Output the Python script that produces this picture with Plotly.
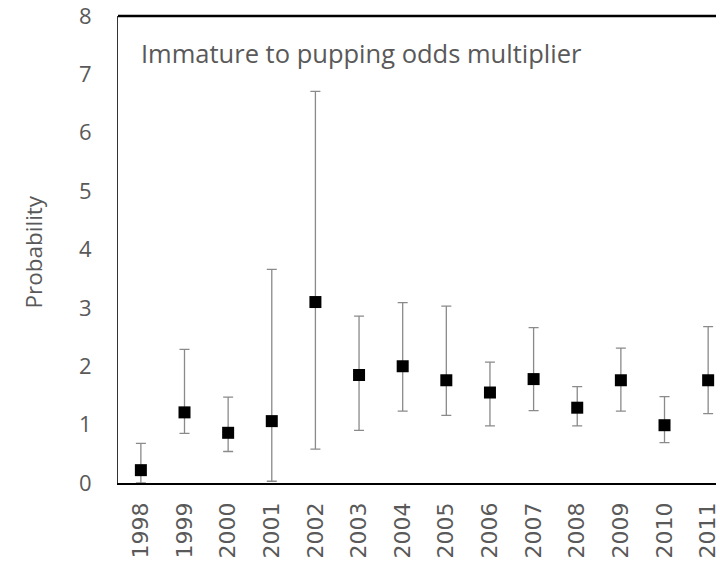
import plotly.graph_objects as go

years = ["1998", "1999", "2000", "2001", "2002", "2003", "2004",
         "2005", "2006", "2007", "2008", "2009", "2010", "2011"]
estimate = [0.22, 1.21, 0.86, 1.06, 3.10, 1.85, 2.00,
            1.76, 1.55, 1.78, 1.29, 1.76, 0.99, 1.76]
upper = [0.68, 2.29, 1.47, 3.66, 6.71, 2.86, 3.09,
         3.03, 2.07, 2.66, 1.65, 2.31, 1.48, 2.68]
lower = [0.00, 0.85, 0.54, 0.03, 0.58, 0.90, 1.23,
         1.16, 0.98, 1.24, 0.98, 1.23, 0.69, 1.19]
y_ticks = [0, 1, 2, 3, 4, 5, 6, 7, 8]

err_plus = [u - e for u, e in zip(upper, estimate)]
err_minus = [e - l for e, l in zip(estimate, lower)]

fig = go.Figure()
fig.add_trace(go.Scatter(
    x=list(range(len(years))), y=estimate, mode="markers",
    marker=dict(symbol="square", size=12, color="black"),
    error_y=dict(type="data", array=err_plus, arrayminus=err_minus,
                 color="#8a8a8a", thickness=1.3, width=5),
    showlegend=False,
))

fig.update_layout(
    width=720, height=562,
    margin=dict(l=118, r=0, t=16, b=79),
    paper_bgcolor="white", plot_bgcolor="white",
    xaxis=dict(
        range=[-0.524, 13.18], tickmode="array",
        tickvals=list(range(len(years))), ticktext=years,
        tickangle=-90, showgrid=False, zeroline=False,
        showline=True, linecolor="black", linewidth=1.5,
        ticks="", ticklabelstandoff=9, ticklabeloverflow="allow",
        tickfont=dict(family="DejaVu Sans", size=22, color="#595959"),
    ),
    yaxis=dict(
        range=[0, 8], tickmode="array", tickvals=y_ticks,
        showgrid=False, zeroline=False,
        showline=True, linecolor="#333333", linewidth=1,
        ticks="", ticklabelstandoff=21, ticklabeloverflow="allow",
        tickfont=dict(family="Open Sans", size=22, color="#595959"),
    ),
    shapes=[dict(type="line", xref="paper", yref="paper", x0=0, x1=1,
                 y0=1, y1=1, line=dict(color="black", width=2.5))],
    annotations=[
        dict(text="Immature to pupping odds multiplier", xref="paper",
             yref="paper", x=0.035, y=0.921, xanchor="left", yanchor="middle",
             showarrow=False,
             font=dict(family="Open Sans", size=25.5, color="#595959")),
        dict(text="Probability", xref="paper", yref="paper",
             x=-0.141, y=0.495, xanchor="center", yanchor="middle",
             textangle=-90, showarrow=False,
             font=dict(family="Open Sans", size=22.5, color="#595959")),
    ],
)

fig.write_html("out.html")
